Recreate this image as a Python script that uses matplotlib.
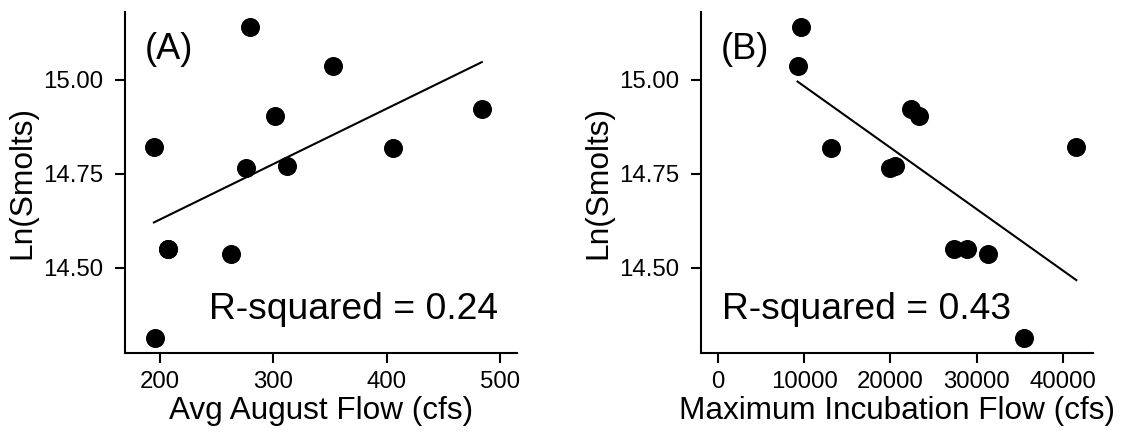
import numpy as np
import matplotlib
matplotlib.use("Agg")
import matplotlib.pyplot as plt
from matplotlib.ticker import FormatStrFormatter

plt.rcParams.update({"font.family": "Liberation Sans", "font.size": 17})

# ln(smolts) per year, shared by both panels
ln_smolts = [15.142, 15.037, 14.922, 14.905, 14.818, 14.822,
             14.765, 14.772, 14.550, 14.550, 14.536, 14.314]
aug_flow = [279.3, 352.7, 484.0, 301.4, 405.6, 194.6,
            276.2, 312.4, 207.2, 207.2, 262.3, 195.9]
incub_flow = [9634, 9215, 22408, 23372, 13068, 41592,
              19895, 20524, 27435, 28901, 31330, 35518]
panel_tags = ["(A)", "(B)"]
r2_labels = ["R-squared = 0.24", "R-squared = 0.43"]
x_titles = ["Avg August Flow (cfs)", "Maximum Incubation Flow (cfs)"]
x_ticks = [[200, 300, 400, 500], [0, 10000, 20000, 30000, 40000]]
y_ticks = [14.50, 14.75, 15.00]

fig = plt.figure(figsize=(11.25, 4.33), dpi=100)
axA = fig.add_axes([0.1111, 0.1841, 0.3487, 0.7882])
axB = fig.add_axes([0.6228, 0.1841, 0.3490, 0.7882])

panels = [(axA, aug_flow, (169.1, 515.3)), (axB, incub_flow, (-2044, 43554))]
for i, (ax, xv, xl) in enumerate(panels):
    x = np.array(xv, float); y = np.array(ln_smolts)
    ax.plot(x, y, "o", color="black", ms=13.7, mew=0)
    # least-squares fit drawn over the observed x range
    b, a = np.polyfit(x, y, 1)
    xx = np.array([x.min(), x.max()])
    ax.plot(xx, a + b * xx, color="black", lw=1.5)
    ax.set_xlim(*xl); ax.set_ylim(14.272, 15.181)
    ax.set_xticks(x_ticks[i]); ax.set_yticks(y_ticks)
    ax.yaxis.set_major_formatter(FormatStrFormatter("%.2f"))
    for s in ("top", "right"):
        ax.spines[s].set_visible(False)
    for s in ("left", "bottom"):
        ax.spines[s].set_linewidth(1.5)
    ax.tick_params(axis="both", length=7.2, width=1.5, labelsize=17.3)
    ax.tick_params(axis="y", pad=8.4)
    ax.tick_params(axis="x", pad=5.5)
    ax.set_xlabel(x_titles[i], fontsize=22.7, labelpad=2)
    ax.set_ylabel("Ln(Smolts)", fontsize=22.8, labelpad=4)
    ax.text(0.05, 0.89, panel_tags[i], transform=ax.transAxes, fontsize=26,
            ha="left", va="center")

axA.text(0.9516, 0.1005, r2_labels[0], transform=axA.transAxes, fontsize=26.8,
         ha="right", va="baseline")
axB.text(0.0535, 0.1005, r2_labels[1], transform=axB.transAxes, fontsize=26.8,
         ha="left", va="baseline")

fig.savefig("out.png", dpi=100)
